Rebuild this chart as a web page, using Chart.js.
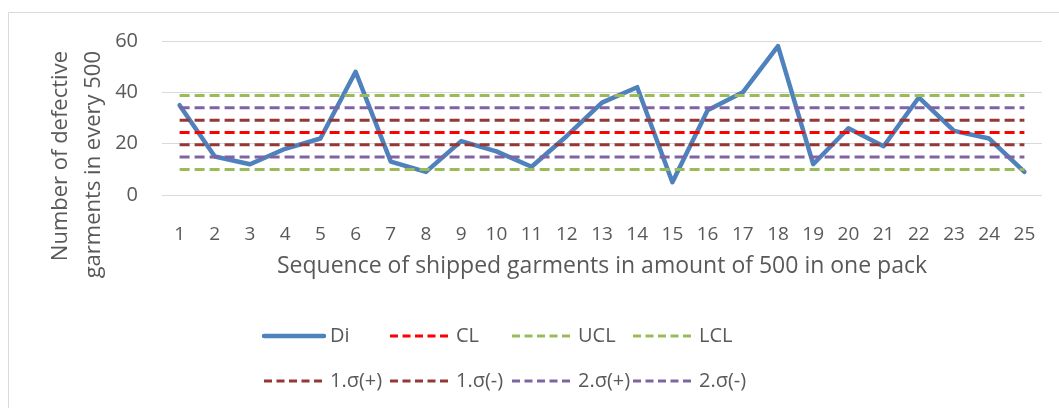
<!DOCTYPE html>
<html>
<head>
<meta charset="utf-8">
<script src="https://cdn.jsdelivr.net/npm/chart.js@4"></script>
<style>
  body { margin: 0; background: #fff; }
  #wrap { width: 1059px; height: 408px; position: relative; }
</style>
</head>
<body>
<div id="wrap"><canvas id="chart"></canvas></div>
<script>
// data
const labels = ['1','2','3','4','5','6','7','8','9','10','11','12','13','14','15','16','17','18','19','20','21','22','23','24','25'];
const di = [35, 15, 12, 18, 22, 48, 13, 9, 21, 17, 11, 23, 36, 42, 5, 33, 40, 58, 12, 26, 19, 38, 25, 22, 9];
const cl = 24.36;
const ucl = 38.76;
const lcl = 9.96;
const sigma1Plus = 29.16;
const sigma1Minus = 19.56;
const sigma2Plus = 33.96;
const sigma2Minus = 14.76;
const yTicks = [0, 20, 40, 60];

const FONT = "'Open Sans', 'Liberation Sans', sans-serif";
const GREY = '#595959';

// control limits are constant lines across every sample
function flat(v) { return labels.map(function () { return v; }); }

function dashed(label, value, color) {
    return {
        label: label,
        data: flat(value),
        borderColor: color,
        backgroundColor: color,
        borderWidth: 3,
        borderDash: [10, 5],
        pointRadius: 0,
        fill: false,
        order: 0
    };
}

// Excel-like frame around the chart (only left and top edges are visible)
const framePlugin = {
    id: 'frame',
    beforeDraw: function (chart) {
        const ctx = chart.ctx;
        ctx.save();
        ctx.strokeStyle = '#d9d9d9';
        ctx.lineWidth = 1;
        ctx.beginPath();
        ctx.moveTo(8.5, 408);
        ctx.lineTo(8.5, 12.5);
        ctx.lineTo(1059, 12.5);
        ctx.stroke();
        ctx.restore();
    }
};

// two line rotated y axis title
const yTitlePlugin = {
    id: 'yTitle',
    afterDraw: function (chart) {
        const ctx = chart.ctx;
        const lines = [['Number of defective', 61], ['garments in every 500', 94]];
        ctx.save();
        ctx.font = '22px ' + FONT;
        ctx.fillStyle = GREY;
        ctx.textAlign = 'right';
        ctx.textBaseline = 'middle';
        lines.forEach(function (l) {
            ctx.save();
            ctx.translate(l[1], 51);
            ctx.rotate(-Math.PI / 2);
            ctx.fillText(l[0], 0, 0);
            ctx.restore();
        });
        ctx.restore();
    }
};

// legend laid out in a 4 column grid like the Excel one
const gridLegendPlugin = {
    id: 'gridLegend',
    afterDraw: function (chart) {
        const ctx = chart.ctx;
        const colX = [264, 390, 512, 633];
        const rowY = [336, 381];
        ctx.save();
        ctx.font = '20px ' + FONT;
        ctx.textBaseline = 'middle';
        ctx.textAlign = 'left';
        chart.data.datasets.forEach(function (ds, i) {
            const x = colX[i % 4];
            const y = rowY[Math.floor(i / 4)];
            ctx.strokeStyle = ds.borderColor;
            ctx.lineWidth = ds.borderWidth;
            ctx.lineCap = ds.borderDash ? 'butt' : 'round';
            ctx.setLineDash(ds.borderDash ? [8, 4.5] : []);
            ctx.beginPath();
            ctx.moveTo(x, y);
            ctx.lineTo(x + 60, y);
            ctx.stroke();
            ctx.setLineDash([]);
            ctx.fillStyle = GREY;
            ctx.fillText(ds.label, x + 66, y);
        });
        ctx.restore();
    }
};

new Chart(document.getElementById('chart'), {
    type: 'line',
    data: {
        labels: labels,
        datasets: [
            {
                label: 'Di',
                data: di,
                borderColor: '#4f81bd',
                backgroundColor: '#4f81bd',
                borderWidth: 4.5,
                borderJoinStyle: 'round',
                borderCapStyle: 'round',
                pointRadius: 0,
                fill: false,
                order: 1
            },
            dashed('CL', cl, '#ff0000'),
            dashed('UCL', ucl, '#9bbb59'),
            dashed('LCL', lcl, '#9bbb59'),
            dashed('1.\u03c3(+)', sigma1Plus, '#953735'),
            dashed('1.\u03c3(-)', sigma1Minus, '#953735'),
            dashed('2.\u03c3(+)', sigma2Plus, '#8064a2'),
            dashed('2.\u03c3(-)', sigma2Minus, '#8064a2')
        ]
    },
    options: {
        responsive: true,
        maintainAspectRatio: false,
        animation: false,
        layout: { padding: { left: 0, top: 41, right: 17, bottom: 123 } },
        plugins: {
            legend: { display: false },
            tooltip: { enabled: false }
        },
        scales: {
            x: {
                offset: true,
                grid: { display: false },
                border: { display: false },
                ticks: {
                    color: GREY,
                    font: { family: FONT, size: 19 },
                    padding: 20,
                    maxRotation: 0,
                    autoSkip: false
                },
                title: {
                    display: true,
                    text: 'Sequence of shipped garments in amount of 500 in one pack',
                    color: GREY,
                    font: { family: FONT, size: 23 },
                    padding: { top: 4, bottom: 5 }
                },
                afterFit: function (scale) { scale.height = 90; }
            },
            y: {
                min: 0,
                max: 60,
                grid: { color: '#d9d9d9', lineWidth: 1, drawTicks: false },
                border: { display: false },
                afterBuildTicks: function (scale) {
                    scale.ticks = yTicks.map(function (v) { return { value: v }; });
                },
                ticks: {
                    color: GREY,
                    font: { family: FONT, size: 20 },
                    padding: 24
                },
                afterFit: function (scale) { scale.width = 162; }
            }
        }
    },
    plugins: [framePlugin, yTitlePlugin, gridLegendPlugin]
});
</script>
</body>
</html>
